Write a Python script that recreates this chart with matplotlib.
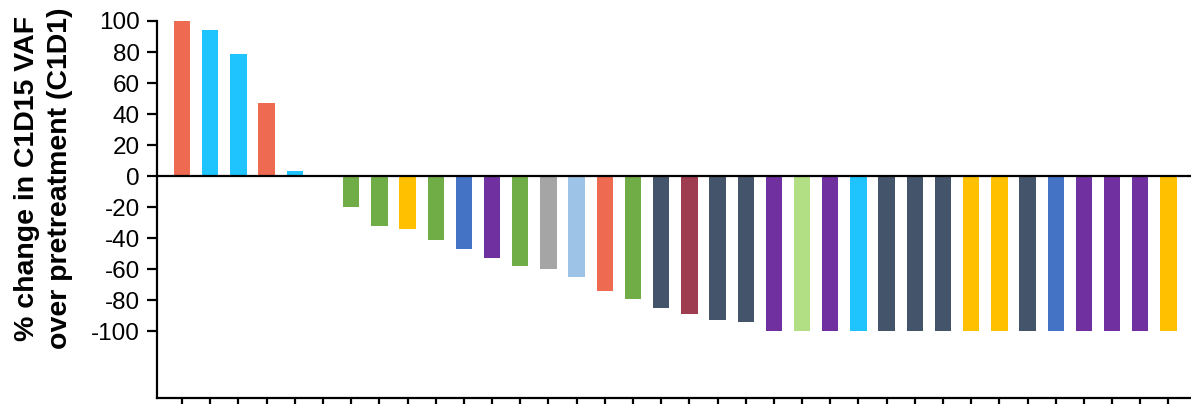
import matplotlib
matplotlib.use("Agg")
import matplotlib.pyplot as plt
import numpy as np

plt.rcParams["font.family"] = ["Liberation Sans", "DejaVu Sans"]

# % change per patient, ordered as in the waterfall
values = [100, 94, 79, 47, 3, 0,
          -20, -32, -34, -41, -47, -53, -58, -60, -65, -74, -79,
          -85, -89, -93, -94,
          -100, -100, -100, -100, -100, -100, -100, -100, -100,
          -100, -100, -100, -100, -100, -100]

groups = ["red", "cyan", "cyan", "red", "cyan", "none",
          "green", "green", "yellow", "green", "blue", "purple", "green", "gray",
          "lightblue", "red", "green",
          "slate", "maroon", "slate", "slate",
          "purple", "lightgreen", "purple", "cyan", "slate", "slate", "slate",
          "yellow", "yellow", "slate", "blue", "purple", "purple", "purple", "yellow"]

palette = {
    "red": "#EE6A50",
    "cyan": "#1FC4FF",
    "green": "#70AD47",
    "yellow": "#FFC000",
    "blue": "#4472C4",
    "purple": "#7030A0",
    "gray": "#A5A5A5",
    "lightblue": "#9DC3E6",
    "slate": "#44546A",
    "maroon": "#9E3D50",
    "lightgreen": "#B3DF84",
    "none": "white",
}

yticks = [100, 80, 60, 40, 20, 0, -20, -40, -60, -80, -100]


def main():
    fig = plt.figure(figsize=(11.91, 4.04), dpi=100)
    ax = fig.add_axes([157 / 1191, 6 / 404, 1 - 157 / 1191, 377 / 404])

    x = np.arange(len(values))
    ax.bar(x, values, width=0.58, color=[palette[g] for g in groups], zorder=2)
    ax.axhline(0, color="black", lw=1.6, zorder=3)

    ax.set_xlim(-0.89, 35.8)
    ax.set_ylim(-143, 100)
    ax.set_xticks(x)
    ax.set_xticklabels([])
    ax.set_yticks(yticks)
    ax.set_yticklabels([str(v) for v in yticks])

    for side in ["top", "right"]:
        ax.spines[side].set_visible(False)
    ax.spines["left"].set_linewidth(1.6)
    ax.spines["bottom"].set_linewidth(1.6)

    ax.tick_params(axis="y", length=7.2, width=1.6, labelsize=17.5, pad=5)
    ax.tick_params(axis="x", length=5, width=1.6)

    fig.text(44 / 1191, (404 - 178) / 404,
             "% change in C1D15 VAF\nover pretreatment (C1D1)",
             rotation=90, ha="center", va="center",
             fontsize=20.5, fontweight="bold", linespacing=1.35)

    fig.savefig("out.png", dpi=100)


if __name__ == "__main__":
    main()
